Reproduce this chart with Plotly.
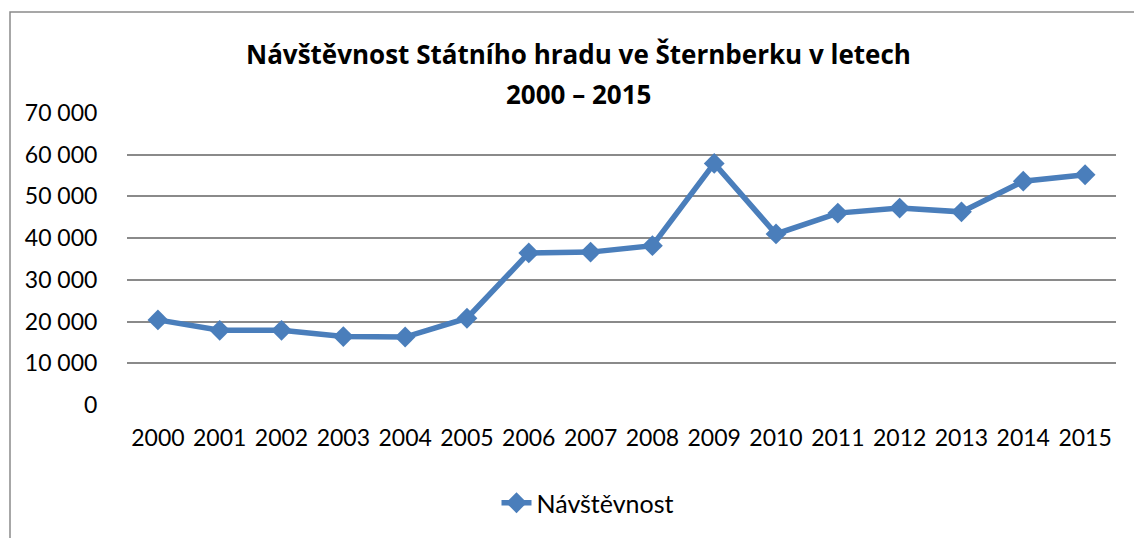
import plotly.graph_objects as go

years = [str(y) for y in range(2000, 2016)]
visitors = [20400, 17900, 17900, 16400, 16300, 20800, 36450, 36650, 38200,
            57900, 41000, 46000, 47200, 46300, 53650, 55200]
series_name = "Návštěvnost"
title_line1 = "Návštěvnost Státního hradu ve Šternberku v letech"
title_line2 = "2000 – 2015"
y_ticks = [0, 10000, 20000, 30000, 40000, 50000, 60000, 70000]

W, H = 1134, 538
L, T = 127, 113
R = W - 1116
B = H - 405
pw = W - L - R
ph = H - T - B


def px_x(x):
    return (x - L) / pw


def px_y(y):
    return (T + ph - y) / ph


fig = go.Figure()
fig.add_trace(go.Scatter(
    x=years, y=visitors, name=series_name, mode="lines+markers",
    line=dict(color="#4a7ebb", width=5.5),
    marker=dict(symbol="diamond", size=16, color="#4a7ebb"),
    showlegend=True,
))

title_font = dict(family="Open Sans", size=26, color="black", weight="bold")
fig.add_annotation(text=title_line1, xref="paper", yref="paper",
                   x=px_x(578), y=px_y(54),
                   xanchor="center", yanchor="middle", showarrow=False,
                   font=title_font)
fig.add_annotation(text=title_line2, xref="paper", yref="paper",
                   x=px_x(578), y=px_y(94),
                   xanchor="center", yanchor="middle", showarrow=False,
                   font=title_font)

fig.update_layout(
    width=W, height=H,
    margin=dict(l=L, r=R, t=T, b=B, autoexpand=False),
    paper_bgcolor="white", plot_bgcolor="white",
    separators=", ",
    font=dict(family="Lato", size=23, color="black"),
    xaxis=dict(type="category", range=[-0.5, len(years) - 0.5],
               showgrid=False, zeroline=False, showline=False,
               ticks="outside", ticklen=12, tickcolor="rgba(0,0,0,0)",
               tickfont=dict(size=23), automargin=False),
    yaxis=dict(range=[0, 70000], tickvals=y_ticks, tickformat=",d",
               showgrid=True, gridcolor="#8a8a8a", gridwidth=2,
               zeroline=False, showline=False,
               ticks="outside", ticklen=24, tickcolor="rgba(0,0,0,0)",
               tickfont=dict(size=23), automargin=False),
    legend=dict(orientation="h", x=px_x(588), xanchor="center",
                y=px_y(503), yanchor="middle",
                font=dict(size=25)),
    shapes=[dict(type="rect", xref="paper", yref="paper",
                 x0=px_x(10), x1=px_x(W + 30),
                 y0=px_y(H + 30), y1=px_y(12),
                 line=dict(color="#8a8a8a", width=1.5), fillcolor="rgba(0,0,0,0)",
                 layer="below")],
)

fig.write_html("out.html",
               config={"displayModeBar": False},
               post_script="document.body.style.margin='0';"
                           "document.body.style.overflow='hidden';")
